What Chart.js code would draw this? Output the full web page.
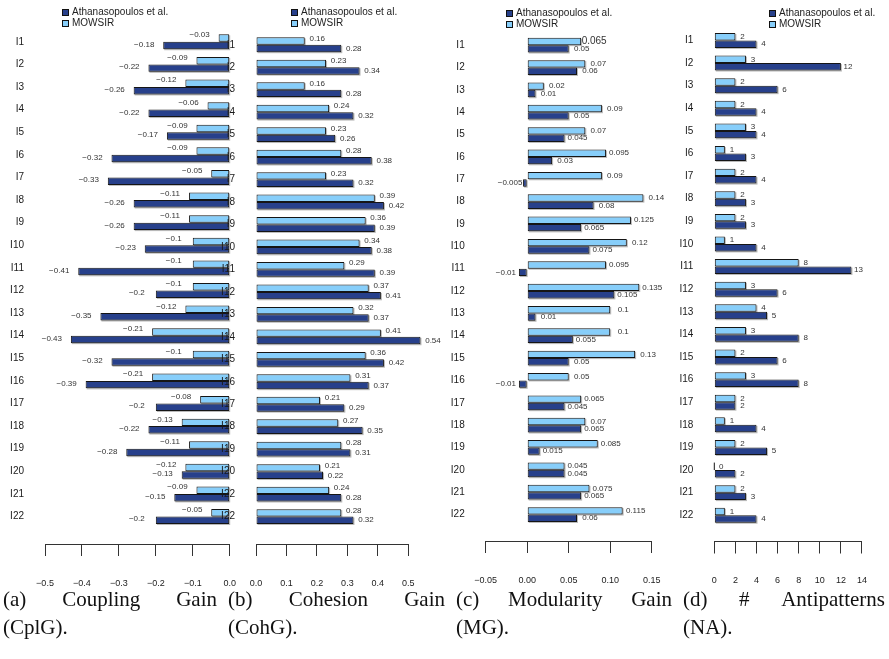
<!DOCTYPE html>
<html>
<head>
<meta charset="utf-8">
<script src="https://cdn.jsdelivr.net/npm/chart.js@4.4.0/dist/chart.umd.min.js"></script>
<style>
  html, body { margin: 0; padding: 0; background: #fff; }
  #wrap { position: relative; width: 889px; height: 659px; overflow: hidden; }
  #wrap canvas { position: absolute; left: 0; top: 0; }
  .legend { position: absolute; font: 10px "Liberation Sans", Arial, Helvetica, sans-serif; color: #222; }
  .legend div { position: absolute; left: 0; white-space: nowrap; line-height: 10px; height: 10px; padding-left: 10px; }
  .legend i { position: absolute; left: 0; top: 2px; width: 5px; height: 5px; border: 1px solid #111; }
  .cap { position: absolute; font: 21px "Liberation Serif", "Times New Roman", serif; color: #111; line-height: 21px; white-space: nowrap; }
  .cap .l1 { display: flex; justify-content: space-between; }
  .cap .l2 { margin-top: 7px; }
</style>
</head>
<body>
<div id="wrap">
  <canvas id="cplg" width="889" height="659"></canvas>
  <canvas id="cohg" width="889" height="659"></canvas>
  <canvas id="mg" width="889" height="659"></canvas>
  <canvas id="na" width="889" height="659"></canvas>
</div>
<script>
// Instances I1..I22 (the cohesion panel repeats "I22" on its 21st row)
const issues = ['I1','I2','I3','I4','I5','I6','I7','I8','I9','I10','I11',
                'I12','I13','I14','I15','I16','I17','I18','I19','I20','I21','I22'];
const cohesionIssues = ['I1','I2','I3','I4','I5','I6','I7','I8','I9','I10','I11',
                        'I12','I13','I14','I15','I16','I17','I18','I19','I20','I22','I22'];
const seriesNames = ['Athanasopoulos et al.', 'MOWSIR'];

// (a) Coupling Gain
const cplgAthan  = [-0.18,-0.22,-0.26,-0.22,-0.17,-0.32,-0.33,-0.26,-0.26,-0.23,-0.41,
                    -0.2,-0.35,-0.43,-0.32,-0.39,-0.2,-0.22,-0.28,-0.13,-0.15,-0.2];
const cplgMowsir = [-0.03,-0.09,-0.12,-0.06,-0.09,-0.09,-0.05,-0.11,-0.11,-0.1,-0.1,
                    -0.1,-0.12,-0.21,-0.1,-0.21,-0.08,-0.13,-0.11,-0.12,-0.09,-0.05];
const cplgTicks  = [-0.5,-0.4,-0.3,-0.2,-0.1,0];

// (b) Cohesion Gain
const cohgAthan  = [0.28,0.34,0.28,0.32,0.26,0.38,0.32,0.42,0.39,0.38,0.39,
                    0.41,0.37,0.54,0.42,0.37,0.29,0.35,0.31,0.22,0.28,0.32];
const cohgMowsir = [0.16,0.23,0.16,0.24,0.23,0.28,0.23,0.39,0.36,0.34,0.29,
                    0.37,0.32,0.41,0.36,0.31,0.21,0.27,0.28,0.21,0.24,0.28];
const cohgTicks  = [0,0.1,0.2,0.3,0.4,0.5];

// (c) Modularity Gain
const mgAthan  = [0.05,0.06,0.01,0.05,0.045,0.03,-0.005,0.08,0.065,0.075,-0.01,
                  0.105,0.01,0.055,0.05,-0.01,0.045,0.065,0.015,0.045,0.065,0.06];
const mgMowsir = [0.065,0.07,0.02,0.09,0.07,0.095,0.09,0.14,0.125,0.12,0.095,
                  0.135,0.1,0.1,0.13,0.05,0.065,0.07,0.085,0.045,0.075,0.115];
const mgTicks  = [-0.05,0,0.05,0.1,0.15];

// (d) # Antipatterns
const naAthan  = [4,12,6,4,4,3,4,3,3,4,13,6,5,8,6,8,2,4,5,2,3,4];
const naMowsir = [2,3,2,2,3,1,2,2,2,1,8,3,4,3,2,3,2,1,2,0,2,1];
const naTicks  = [0,2,4,6,8,10,12,14];

const LIGHT = '#87CEFA';
const DARK = '#27408B';
const SANS = '"Liberation Sans", Arial, Helvetica, sans-serif';
const W = 889, H = 659;
const AXIS_W = 40, AXIS_H = 60;

Chart.defaults.font.family = SANS;

const minus = s => s.replace('-', '\u2212');

// soft grey drop shadow under every bar, and a hairline for zero-length bars
const barShadow = {
  id: 'barShadow',
  beforeDatasetsDraw(chart) {
    const ctx = chart.ctx;
    ctx.save();
    ctx.fillStyle = 'rgba(0,0,0,0.28)';
    chart.data.datasets.forEach((ds, di) => {
      chart.getDatasetMeta(di).data.forEach(bar => {
        const p = bar.getProps(['x', 'y', 'base', 'height'], true);
        const l = Math.min(p.x, p.base), w = Math.abs(p.x - p.base);
        if (w > 0) ctx.fillRect(l + 1, p.y - p.height / 2 + 1, w, p.height);
      });
    });
    ctx.restore();
  },
  afterDatasetsDraw(chart) {
    const ctx = chart.ctx;
    ctx.save();
    ctx.fillStyle = '#151515';
    chart.data.datasets.forEach((ds, di) => {
      chart.getDatasetMeta(di).data.forEach(bar => {
        const p = bar.getProps(['x', 'y', 'base', 'height'], true);
        if (Math.abs(p.x - p.base) < 0.5) ctx.fillRect(p.base - 0.5, p.y - p.height / 2, 1, p.height);
      });
    });
    ctx.restore();
  }
};

// value printed beside the end of each bar
const valueLabels = {
  id: 'valueLabels',
  afterDatasetsDraw(chart, args, opts) {
    const ctx = chart.ctx;
    chart.data.datasets.forEach((ds, di) => {
      chart.getDatasetMeta(di).data.forEach((bar, i) => {
        const v = ds.data[i].x;
        const p = bar.getProps(['x', 'y'], true);
        const dir = v < 0 ? -1 : 1;
        const big = opts.big && opts.big[0] === di && opts.big[1] === i;
        ctx.save();
        ctx.font = (big ? 10 : 8) + 'px ' + SANS;
        ctx.fillStyle = '#333';
        ctx.textAlign = 'center';
        ctx.textBaseline = 'middle';
        ctx.fillText(minus(String(v)), p.x + dir * opts.gap, p.y + opts.dy[di]);
        ctx.restore();
      });
    });
  }
};

function panel(id, o) {
  const top = 26;
  const sp = (o.row22 - o.row1) / 21;
  const yMin = 1 - (o.row1 - top) / sp;
  const yMax = 22 + (o.axisY - o.row22) / sp;
  const pts = arr => arr.map((v, i) => ({ x: v, y: i + 1 }));
  return new Chart(document.getElementById(id), {
    type: 'bar',
    data: {
      datasets: [
        { label: seriesNames[1], data: pts(o.mowsir), backgroundColor: LIGHT, clip: false },
        { label: seriesNames[0], data: pts(o.athan), backgroundColor: DARK, clip: false }
      ]
    },
    options: {
      indexAxis: 'y',
      responsive: false,
      animation: false,
      devicePixelRatio: 1,
      events: [],
      layout: { padding: { left: o.left - AXIS_W, right: W - o.right, top: top, bottom: H - o.axisY - AXIS_H } },
      datasets: {
        bar: { categoryPercentage: 0.66, barPercentage: 1, borderWidth: 1, borderColor: '#151515', borderSkipped: false }
      },
      plugins: {
        legend: { display: false },
        tooltip: { enabled: false },
        valueLabels: { gap: o.gap, dy: o.dy, big: o.big }
      },
      scales: {
        x: {
          type: 'linear',
          position: 'bottom',
          min: o.ticks[0],
          max: o.ticks[o.ticks.length - 1],
          afterBuildTicks: s => { s.ticks = o.ticks.map(v => ({ value: v })); },
          afterFit: s => { s.height = AXIS_H; },
          grid: { drawOnChartArea: false, drawTicks: true, tickLength: 12, color: '#333', lineWidth: 1 },
          border: { display: true, color: '#333', width: 1 },
          ticks: {
            padding: 22, autoSkip: false, maxRotation: 0, color: '#222',
            font: { size: 9 },
            callback: v => minus(Number(v).toFixed(o.dec))
          }
        },
        y: {
          type: 'linear',
          reverse: true,
          offset: false,
          min: yMin,
          max: yMax,
          afterBuildTicks: s => { s.ticks = o.labels.map((_, i) => ({ value: i + 1 })); },
          afterFit: s => { s.width = AXIS_W; },
          grid: { display: false, drawTicks: false, offset: false },
          border: { display: false },
          ticks: {
            padding: 21, autoSkip: false, color: '#1a1a1a',
            font: { size: 10 },
            callback: v => o.labels[Math.round(v) - 1]
          }
        }
      }
    },
    plugins: [barShadow, valueLabels]
  });
}

panel('cplg', { labels: issues, athan: cplgAthan, mowsir: cplgMowsir, ticks: cplgTicks, dec: 1,
  left: 45, right: 229.7, axisY: 544, row1: 40.8, row22: 516.5, gap: 19, dy: [-3, -1] });
panel('cohg', { labels: cohesionIssues, athan: cohgAthan, mowsir: cohgMowsir, ticks: cohgTicks, dec: 1,
  left: 256, right: 408.3, axisY: 544, row1: 43.8, row22: 516.5, gap: 12.5, dy: [-2.5, 0] });
panel('mg', { labels: issues, athan: mgAthan, mowsir: mgMowsir, ticks: mgTicks, dec: 2,
  left: 485.7, right: 651.7, axisY: 541, row1: 44.2, row22: 514.5, gap: 13, dy: [0, 0], big: [0, 0] });
panel('na', { labels: issues, athan: naAthan, mowsir: naMowsir, ticks: naTicks, dec: 0,
  left: 714.3, right: 881.7, axisY: 541.5, row1: 39.5, row22: 515.2, gap: 7, dy: [0, 0] });

// legends and sub-captions
const wrap = document.getElementById('wrap');
[[62, 6.5], [291, 6.5], [506, 8], [769, 7.5]].forEach(([x, y]) => {
  const lg = document.createElement('div');
  lg.className = 'legend';
  lg.style.left = x + 'px';
  lg.style.top = y + 'px';
  [[seriesNames[0], DARK], [seriesNames[1], LIGHT]].forEach(([name, col], k) => {
    const row = document.createElement('div');
    row.style.top = (k * 11) + 'px';
    const sw = document.createElement('i');
    sw.style.background = col;
    row.appendChild(sw);
    row.appendChild(document.createTextNode(name));
    lg.appendChild(row);
  });
  wrap.appendChild(lg);
});

const captions = [
  { x: 3,   w: 214, words: ['(a)', 'Coupling', 'Gain'], second: '(CplG).' },
  { x: 228, w: 217, words: ['(b)', 'Cohesion', 'Gain'], second: '(CohG).' },
  { x: 456, w: 216, words: ['(c)', 'Modularity', 'Gain'], second: '(MG).' },
  { x: 683, w: 202, words: ['(d)', '#', 'Antipatterns'], second: '(NA).' }
];
captions.forEach(c => {
  const d = document.createElement('div');
  d.className = 'cap';
  d.style.left = c.x + 'px';
  d.style.top = '589px';
  d.style.width = c.w + 'px';
  const l1 = document.createElement('div');
  l1.className = 'l1';
  c.words.forEach(w => { const s = document.createElement('span'); s.textContent = w; l1.appendChild(s); });
  const l2 = document.createElement('div');
  l2.className = 'l2';
  l2.textContent = c.second;
  d.appendChild(l1);
  d.appendChild(l2);
  wrap.appendChild(d);
});
</script>
</body>
</html>
